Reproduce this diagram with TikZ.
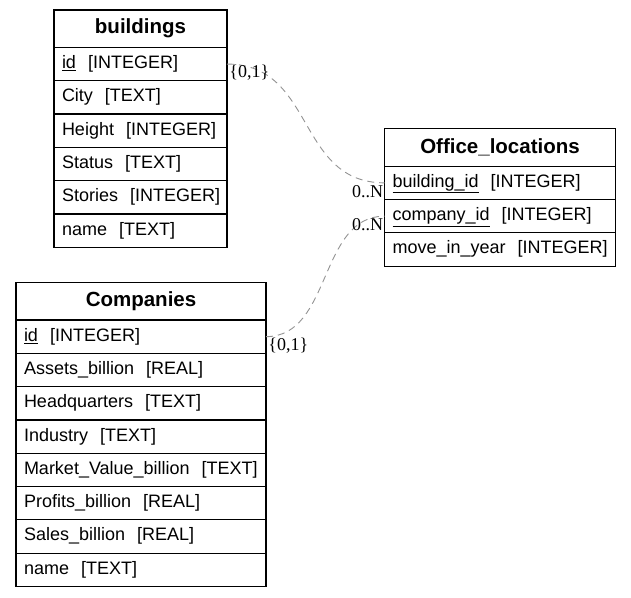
\documentclass[tikz,border=0pt]{standalone}
\usepackage{fontspec}
\setmainfont{Liberation Sans}
\newfontfamily\cardfont{Liberation Serif}
\usepackage{tikz}
\usetikzlibrary{positioning}

\begin{document}
\begin{tikzpicture}[
        x=1pt, y=-1pt,
        node distance=0pt,
        tbl/.style={draw, line width=1.2pt, outer sep=0pt, inner sep=0pt},
        head/.style={tbl, minimum width=#1, minimum height=37.4pt,
                font=\fontsize{20.5}{24}\selectfont\bfseries},
        field/.style={tbl, text width=#1, inner xsep=8pt, minimum height=33.3pt,
                text height=13pt, text depth=4pt, align=left,
                font=\fontsize{18}{21}\selectfont},
        card/.style={inner sep=0pt, font=\cardfont\fontsize{18}{20}\selectfont},
        rel/.style={draw=gray!85, line width=0.9pt, dash pattern=on 7pt off 5pt}
        ]
        \useasboundingbox (0,0) rectangle (631,597);

        % buildings
        \node[head=173pt, anchor=north west] (b) at (54,10) {buildings};
        \node[field=157pt] (b1) [below=of b] {\mbox{\underline{id}~~[INTEGER]}};
        \node[field=157pt] (b2) [below=of b1] {\mbox{City~~[TEXT]}};
        \node[field=157pt] (b3) [below=of b2] {\mbox{Height~~[INTEGER]}};
        \node[field=157pt] (b4) [below=of b3] {\mbox{Status~~[TEXT]}};
        \node[field=157pt] (b5) [below=of b4] {\mbox{Stories~~[INTEGER]}};
        \node[field=157pt] (b6) [below=of b5] {\mbox{name~~[TEXT]}};

        % Office_locations
        \node[head=231pt, anchor=north west] (o) at (384.5,128.8) {Office\_locations};
        \node[field=215pt] (o1) [below=of o] {\mbox{\underline{building\_id}~~[INTEGER]}};
        \node[field=215pt] (o2) [below=of o1] {\mbox{\underline{company\_id}~~[INTEGER]}};
        \node[field=215pt] (o3) [below=of o2] {\mbox{move\_in\_year~~[INTEGER]}};

        % Companies
        \node[head=250pt, anchor=north west] (c) at (16,282.6) {Companies};
        \node[field=234pt] (c1) [below=of c] {\mbox{\underline{id}~~[INTEGER]}};
        \node[field=234pt] (c2) [below=of c1] {\mbox{Assets\_billion~~[REAL]}};
        \node[field=234pt] (c3) [below=of c2] {\mbox{Headquarters~~[TEXT]}};
        \node[field=234pt] (c4) [below=of c3] {\mbox{Industry~~[TEXT]}};
        \node[field=234pt] (c5) [below=of c4] {\mbox{Market\_Value\_billion~~[TEXT]}};
        \node[field=234pt] (c6) [below=of c5] {\mbox{Profits\_billion~~[REAL]}};
        \node[field=234pt] (c7) [below=of c6] {\mbox{Sales\_billion~~[REAL]}};
        \node[field=234pt] (c8) [below=of c7] {\mbox{name~~[TEXT]}};

        \path[rel]
              (b1.east) edge [out=0, in=180, looseness=1.15]
                    node[card, pos=0, anchor=north west, xshift=2pt, yshift=-1pt] (b1card) {\{0,1\}}
                    node[card, pos=1, anchor=north east, xshift=-1pt, yshift=-2pt] (o1card) {0..N}
                    (o1.west)
              (c1.east) edge [out=0, in=180, looseness=1]
                    node[card, pos=0, anchor=north west, xshift=2pt, yshift=-1pt] (c1card) {\{0,1\}}
                    node[card, pos=1, anchor=north east, xshift=-1pt, yshift=-2pt] (o2card) {0..N}
                    (o2.west);
\end{tikzpicture}
\end{document}
